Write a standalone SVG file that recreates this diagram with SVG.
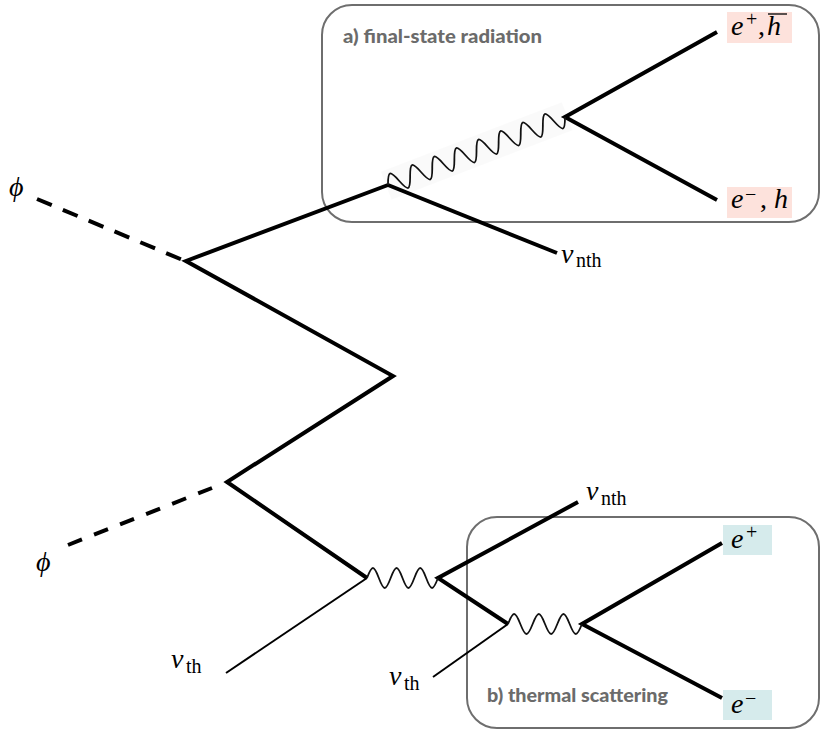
<svg xmlns="http://www.w3.org/2000/svg" width="821" height="731" viewBox="0 0 821 731">
  <style>
    .thick { fill: none; stroke: #000; stroke-width: 4; stroke-linejoin: miter; }
    .dash { fill: none; stroke: #000; stroke-width: 4; }
    .thin { fill: none; stroke: #000; stroke-width: 2; }
    .wave { fill: none; stroke: #111; stroke-width: 1.8; }
    .box { fill: none; stroke: #6e6e6e; stroke-width: 2; }
    .title { font-family: Lato, "Open Sans", sans-serif; font-weight: 900; font-size: 18px; fill: #6b6b6b; }
    .math { font-family: "Liberation Serif", "DejaVu Serif", serif; font-style: italic; font-size: 28px; fill: #000; }
    .rm { font-family: "Liberation Serif", "DejaVu Serif", serif; font-style: normal; fill: #000; }
    .sub { font-size: 20px; }
    .sup { font-size: 20px; }
  </style>

  <!-- inset frames -->
  <g id="box-final-state">
    <rect class="box" x="322" y="5" width="497" height="217" rx="30" ry="30"/>
    <text class="title" x="343" y="43" textLength="199" lengthAdjust="spacingAndGlyphs">a)  final-state radiation</text>
  </g>
  <g id="box-thermal">
    <rect class="box" x="467" y="517" width="352" height="211" rx="30" ry="30"/>
    <text class="title" x="487" y="702" textLength="181" lengthAdjust="spacingAndGlyphs">b) thermal scattering</text>
  </g>

  <!-- propagators -->
  <g id="connectors">
    <!-- scalar legs -->
    <line class="dash" x1="37" y1="199" x2="185" y2="261" stroke-dasharray="16 12"/>
    <line class="dash" x1="68" y1="545" x2="212" y2="488" stroke-dasharray="15 13"/>

    <!-- main fermion zigzag -->
    <path class="thick" d="M388,185 L186,261 L393,376 L227,482 L367,578"/>
    <line class="thick" x1="388" y1="185" x2="557" y2="253"/>
    <path class="thick" d="M717,32 L565,117 L717,200"/>
    <path class="thick" d="M578,502 L438,578 L508,624"/>
    <path class="thick" d="M722,543 L582,624 L722,698"/>

    <!-- thermal neutrino legs -->
    <line class="thin" x1="367" y1="578" x2="226" y2="673"/>
    <line class="thin" x1="508" y1="624" x2="433" y2="677"/>

    <!-- boson lines -->
    <g transform="translate(388,185) rotate(-21.01)">
      <rect x="-2" y="-15" width="194" height="30" fill="#000" opacity="0.018"/>
      <path class="wave" d="M0,0 c5.03,-13.33 6.82,-13.33 11.85,0 s6.82,13.33 11.85,0 s6.82,-13.33 11.85,0 s6.82,13.33 11.85,0 s6.82,-13.33 11.85,0 s6.82,13.33 11.85,0 s6.82,-13.33 11.85,0 s6.82,13.33 11.85,0 s6.82,-13.33 11.85,0 s6.82,13.33 11.85,0 s6.82,-13.33 11.85,0 s6.82,13.33 11.85,0 s6.82,-13.33 11.85,0 s6.82,13.33 11.85,0 s6.82,-13.33 11.85,0 s6.82,13.33 11.85,0"/>
    </g>
    <path class="wave" d="M367,578 c5.02,-13.33 6.81,-13.33 11.83,0 s6.81,13.33 11.83,0 s6.81,-13.33 11.83,0 s6.81,13.33 11.83,0 s6.81,-13.33 11.83,0 s6.81,13.33 11.83,0"/>
    <path class="wave" d="M508,624 c5.23,-13.33 7.10,-13.33 12.33,0 s7.10,13.33 12.33,0 s7.10,-13.33 12.33,0 s7.10,13.33 12.33,0 s7.10,-13.33 12.33,0 s7.10,13.33 12.33,0"/>
  </g>

  <!-- external particle labels -->
  <g id="phi-top"><text class="math" font-size="31" x="9" y="196">ϕ</text></g>
  <g id="phi-bottom"><text class="math" font-size="31" x="36" y="571">ϕ</text></g>

  <g id="nu-nth-top">
    <text class="math" x="561" y="263">ν</text>
    <text class="rm sub" x="576" y="267">nth</text>
  </g>
  <g id="nu-nth-bottom">
    <text class="math" x="586" y="500">ν</text>
    <text class="rm sub" x="601" y="505">nth</text>
  </g>
  <g id="nu-th-left">
    <text class="math" x="171" y="668">ν</text>
    <text class="rm sub" x="186" y="673">th</text>
  </g>
  <g id="nu-th-right">
    <text class="math" x="389" y="685">ν</text>
    <text class="rm sub" x="404" y="690">th</text>
  </g>

  <g id="ep-hbar">
    <rect x="727" y="12" width="65" height="31" fill="#fde2dc"/>
    <text class="math" x="731" y="35">e</text>
    <text class="rm sup" x="746" y="26">+</text>
    <text class="rm" font-size="28" x="758" y="35">,</text>
    <text class="math" x="767" y="35">h</text>
    <line x1="768" y1="14" x2="787" y2="14" stroke="#000" stroke-width="1.3"/>
  </g>
  <g id="em-h">
    <rect x="727" y="187" width="65" height="31" fill="#fde2dc"/>
    <text class="math" x="731" y="208">e</text>
    <text class="rm sup" x="745" y="201">−</text>
    <text class="rm" font-size="28" x="760" y="208">,</text>
    <text class="math" x="774" y="208">h</text>
  </g>
  <g id="ep">
    <rect x="723" y="525" width="49" height="30" fill="#d6ebec"/>
    <text class="math" x="731" y="548">e</text>
    <text class="rm sup" x="746" y="539">+</text>
  </g>
  <g id="em">
    <rect x="723" y="690" width="49" height="30" fill="#d6ebec"/>
    <text class="math" x="731" y="713">e</text>
    <text class="rm sup" x="745" y="705">−</text>
  </g>
</svg>
